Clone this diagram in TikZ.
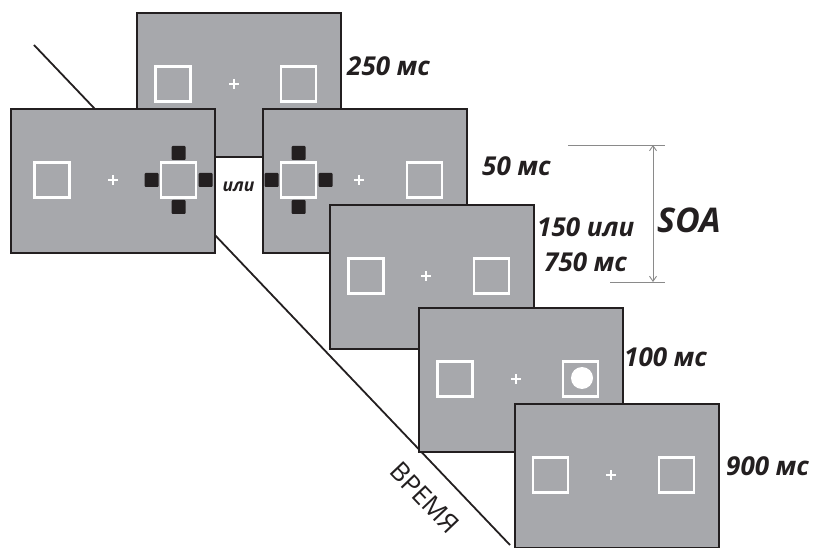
\documentclass[tikz,border=0pt]{standalone}
\usepackage{fontspec}
\setmainfont{Open Sans}
\usetikzlibrary{arrows.meta,calc}
\definecolor{scr}{HTML}{A7A8AC}
\definecolor{edge}{HTML}{231F20}
\definecolor{soa}{HTML}{8A8A8A}
\begin{document}
\begin{tikzpicture}[x=1pt,y=-1pt,
  screen/.style={draw=edge, line width=2.2pt, fill=scr, minimum width=204pt, minimum height=144pt, inner sep=0pt, anchor=north west},
  wsq/.style={draw=white, line width=2.3pt, minimum size=35pt, inner sep=0pt},
  cuesq/.style={fill=edge, minimum size=14pt, inner sep=0pt, rounded corners=1pt},
  lab/.style={font=\fontsize{26}{28}\selectfont\bfseries\itshape, text=edge, anchor=west, inner sep=0pt},
  pics/plus/.style={code={\draw[white, line width=#1] (-5,0)--(5,0) (0,-5)--(0,5);}}
]
\useasboundingbox (0,0) rectangle (817,548);
% time line
\coordinate (t0) at (34,45);
\coordinate (t1) at (510,545);
\draw[edge, line width=1.8pt] (t0) -- (t1);
\node[font=\fontsize{26}{28}\selectfont, text=edge, rotate=-46.4, inner sep=0pt] (time) at (425,498) {ВРЕМЯ};

% screen 1
\node[screen] (s1) at (136,12) {};
\node[wsq] (s1l) at ($(s1.north west)+(37,72)$) {};
\node[wsq] (s1r) at ($(s1.north west)+(162.5,72)$) {};
\pic at ($(s1.north west)+(98,72)$) {plus=2.6pt};

% screen 2
\node[screen] (s2) at (10,108) {};
\node[wsq] (s2l) at ($(s2.north west)+(42,72)$) {};
\pic at ($(s2.north west)+(103,72)$) {plus=2.6pt};
\node[wsq] (s2c) at ($(s2.north west)+(168.5,72)$) {};
\node[cuesq] (s2ct) at ($(s2c)+(0,-27)$) {};
\node[cuesq] (s2cb) at ($(s2c)+(0,27)$) {};
\node[cuesq] (s2cl) at ($(s2c)+(-27,0)$) {};
\node[cuesq] (s2cr) at ($(s2c)+(27,0)$) {};

% screen 3
\node[screen] (s3) at (262,108) {};
\node[wsq] (s3c) at ($(s3.north west)+(36.5,72)$) {};
\node[cuesq] (s3ct) at ($(s3c)+(0,-27)$) {};
\node[cuesq] (s3cb) at ($(s3c)+(0,27)$) {};
\node[cuesq] (s3cl) at ($(s3c)+(-27,0)$) {};
\node[cuesq] (s3cr) at ($(s3c)+(27,0)$) {};
\pic at ($(s3.north west)+(97,72)$) {plus=2.6pt};
\node[wsq] (s3r) at ($(s3.north west)+(162.5,72)$) {};

% screen 4
\node[screen] (s4) at (329,204) {};
\node[wsq] (s4l) at ($(s4.north west)+(37,72)$) {};
\pic at ($(s4.north west)+(97,72)$) {plus=1.1pt};
\node[wsq] (s4r) at ($(s4.north west)+(162.5,72)$) {};

% screen 5
\node[screen] (s5) at (418,307) {};
\node[wsq] (s5l) at ($(s5.north west)+(37,72)$) {};
\pic at ($(s5.north west)+(98,72)$) {plus=1.1pt};
\node[wsq] (s5r) at ($(s5.north west)+(162.5,72)$) {};
\node[circle, fill=white, minimum size=22pt, inner sep=0pt] (dot) at ($(s5r)+(1.5,-1)$) {};

% screen 6
\node[screen] (s6) at (514,403) {};
\node[wsq] (s6l) at ($(s6.north west)+(36.5,72)$) {};
\pic at ($(s6.north west)+(97,72)$) {plus=1.1pt};
\node[wsq] (s6r) at ($(s6.north west)+(162.5,72)$) {};

% labels
\node[lab] (l250) at (347,66) {250 мс};
\node[lab] (l50) at (482,166) {50 мс};
\node[lab] (l150) at (537,227) {150 или};
\node[lab] (l750) at (544,262) {750 мс};
\node[lab] (l100) at (624,357) {100 мс};
\node[lab] (l900) at (726,466) {900 мс};
\node[lab, font=\fontsize{17.5}{19}\selectfont\bfseries\itshape, anchor=center] (ili) at (238.5,187) {или};
\node[lab, font=\fontsize{34}{36}\selectfont\bfseries\itshape] (soat) at (657,220) {SOA};

% SOA bracket
\coordinate (a1) at (568,145);
\coordinate (a2) at (665,145);
\coordinate (b1) at (610,282);
\coordinate (b2) at (665,282);
\coordinate (ua) at (653,145);
\coordinate (ub) at (653,282);
\draw[soa, line width=0.9pt] (a1) -- (a2);
\draw[soa, line width=0.9pt] (b1) -- (b2);
\draw[soa, line width=0.9pt, {Straight Barb[length=5pt,width=7pt]}-{Straight Barb[length=5pt,width=7pt]}] (ua) -- (ub);
\end{tikzpicture}
\end{document}
